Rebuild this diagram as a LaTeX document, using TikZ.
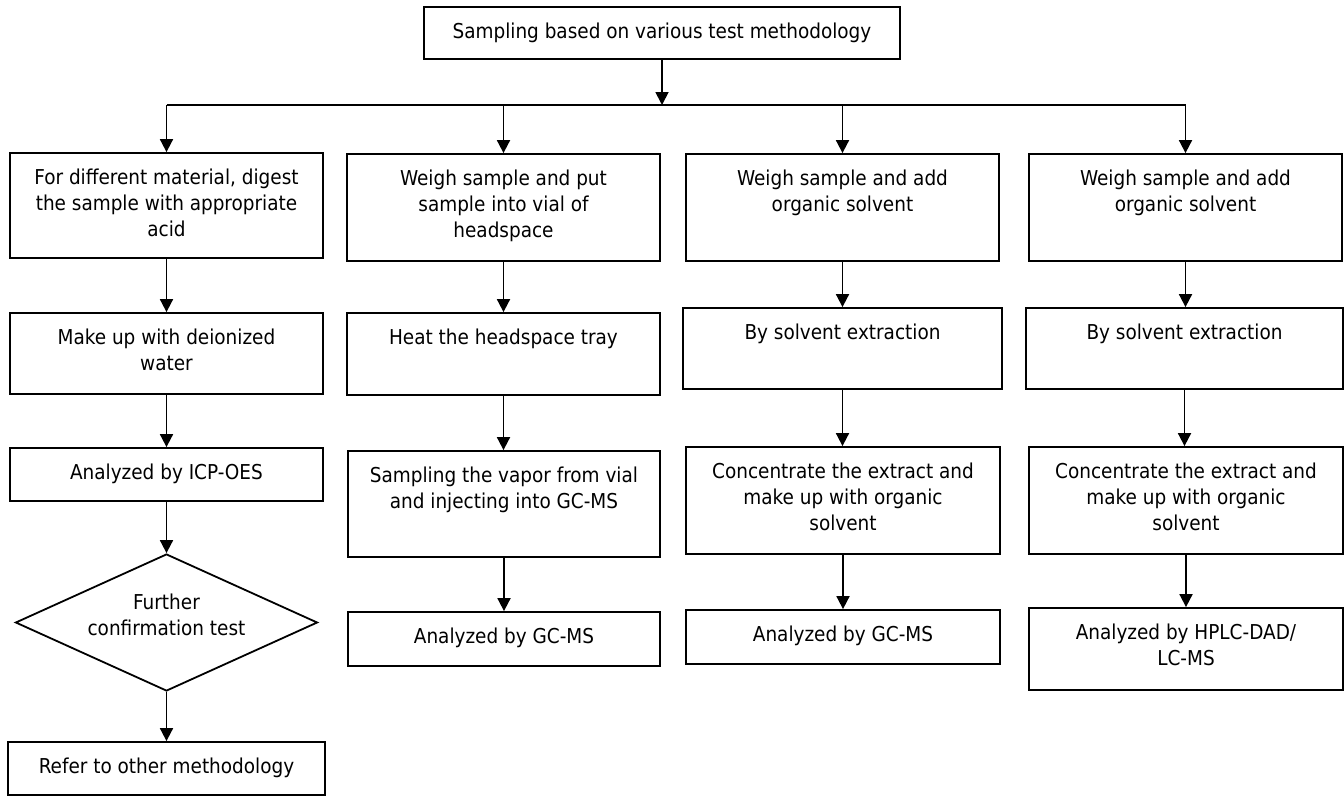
\documentclass[tikz,border=0pt]{standalone}
\usepackage{fontspec}
\setmainfont{DejaVu Sans Condensed}
\usetikzlibrary{arrows.meta,shapes.geometric}
\newcommand\fstr{\rule{0pt}{18pt}}
\begin{document}
\begin{tikzpicture}[x=1pt,y=-1pt,
  box/.style={draw, line width=1.8pt, inner sep=0pt, rectangle},
  txt/.style={font=\fontsize{20.5}{26}\selectfont, align=center, inner sep=0pt, anchor=north},
  arr/.style={line width=1.8pt, -{Triangle[length=13pt,width=13pt]}},
  ln/.style={line width=1.8pt}]
\useasboundingbox (0,0) rectangle (1344,796);
% top
\node[box, minimum width=476pt, minimum height=52pt] (top) at (662,33) {};
\node[txt] (ttop) at ([yshift=-14pt]top.north) {\fstr Sampling based on various test methodology};
% column 1
\node[box, minimum width=313pt, minimum height=105pt] (a1) at (166.5,205.5) {};
\node[txt] (ta1) at ([yshift=-14pt]a1.north) {\fstr For different material, digest\\the sample with appropriate\\acid};
\node[box, minimum width=313pt, minimum height=81pt] (a2) at (166.5,353.5) {};
\node[txt] (ta2) at ([yshift=-14pt]a2.north) {\fstr Make up with deionized\\water};
\node[box, minimum width=313pt, minimum height=53pt] (a3) at (166.5,474.5) {};
\node[txt] (ta3) at ([yshift=-14pt]a3.north) {\fstr Analyzed by ICP-OES};
\node[draw, diamond, line width=1.8pt, inner sep=0pt, minimum width=302pt, minimum height=137pt] (dm) at (166.5,622.5) {};
\node[txt] (tdm) at ([yshift=31.5pt]dm.center) {\fstr Further\\confirmation test};
\node[box, minimum width=317pt, minimum height=53pt] (a5) at (166.5,768.5) {};
\node[txt] (ta5) at ([yshift=-14pt]a5.north) {\fstr Refer to other methodology};
% column 2
\node[box, minimum width=313pt, minimum height=107pt] (b1) at (503.5,207.5) {};
\node[txt] (tb1) at ([yshift=-14pt]b1.north) {\fstr Weigh sample and put\\sample into vial of\\headspace};
\node[box, minimum width=313pt, minimum height=82pt] (b2) at (503.5,354) {};
\node[txt] (tb2) at ([yshift=-14pt]b2.north) {\fstr Heat the headspace tray};
\node[box, minimum width=312pt, minimum height=106pt] (b3) at (504,504) {};
\node[txt] (tb3) at ([yshift=-14pt]b3.north) {\fstr Sampling the vapor from vial\\and injecting into GC-MS};
\node[box, minimum width=312pt, minimum height=54pt] (b4) at (504,639) {};
\node[txt] (tb4) at ([yshift=-14pt]b4.north) {\fstr Analyzed by GC-MS};
% column 3
\node[box, minimum width=313pt, minimum height=107pt] (c1) at (842.5,207.5) {};
\node[txt] (tc1) at ([yshift=-14pt]c1.north) {\fstr Weigh sample and add\\organic solvent};
\node[box, minimum width=319pt, minimum height=81pt] (c2) at (842.5,348.5) {};
\node[txt] (tc2) at ([yshift=-14pt]c2.north) {\fstr By solvent extraction};
\node[box, minimum width=314pt, minimum height=107pt] (c3) at (843,500.5) {};
\node[txt] (tc3) at ([yshift=-14pt]c3.north) {\fstr Concentrate the extract and\\make up with organic\\solvent};
\node[box, minimum width=314pt, minimum height=54pt] (c4) at (843,637) {};
\node[txt] (tc4) at ([yshift=-14pt]c4.north) {\fstr Analyzed by GC-MS};
% column 4
\node[box, minimum width=313pt, minimum height=107pt] (d1) at (1185.5,207.5) {};
\node[txt] (td1) at ([yshift=-14pt]d1.north) {\fstr Weigh sample and add\\organic solvent};
\node[box, minimum width=317pt, minimum height=81pt] (d2) at (1184.5,348.5) {};
\node[txt] (td2) at ([yshift=-14pt]d2.north) {\fstr By solvent extraction};
\node[box, minimum width=314pt, minimum height=107pt] (d3) at (1186,500.5) {};
\node[txt] (td3) at ([yshift=-14pt]d3.north) {\fstr Concentrate the extract and\\make up with organic\\solvent};
\node[box, minimum width=314pt, minimum height=82pt] (d4) at (1186,649) {};
\node[txt] (td4) at ([yshift=-14pt]d4.north) {\fstr Analyzed by HPLC-DAD/\\LC-MS};
% bus
\coordinate (bus) at (662,105);
\coordinate (bus1) at (a1.north |- bus);
\coordinate (bus2) at (b1.north |- bus);
\coordinate (bus3) at (c1.north |- bus);
\coordinate (bus4) at (d1.north |- bus);
\draw[arr] (top.south) -- (bus);
\draw[ln] (bus1) -- (bus4);
\draw[arr] (bus1) -- (a1.north);
\draw[arr] (bus2) -- (b1.north);
\draw[arr] (bus3) -- (c1.north);
\draw[arr] (bus4) -- (d1.north);
% column arrows
\draw[arr] (a1.south) -- (a1.south |- a2.north);
\draw[arr] (a2.south) -- (a2.south |- a3.north);
\draw[arr] (a3.south) -- (dm.north);
\draw[arr] (dm.south) -- (dm.south |- a5.north);
\draw[arr] (b1.south) -- (b1.south |- b2.north);
\draw[arr] (b2.south) -- (b2.south |- b3.north);
\draw[arr] (b3.south) -- (b3.south |- b4.north);
\draw[arr] (c1.south) -- (c1.south |- c2.north);
\draw[arr] (c2.south) -- (c2.south |- c3.north);
\draw[arr] (c3.south) -- (c3.south |- c4.north);
\draw[arr] (d1.south) -- (d1.south |- d2.north);
\draw[arr] (d2.south) -- (d2.south |- d3.north);
\draw[arr] (d3.south) -- (d3.south |- d4.north);
\end{tikzpicture}
\end{document}
